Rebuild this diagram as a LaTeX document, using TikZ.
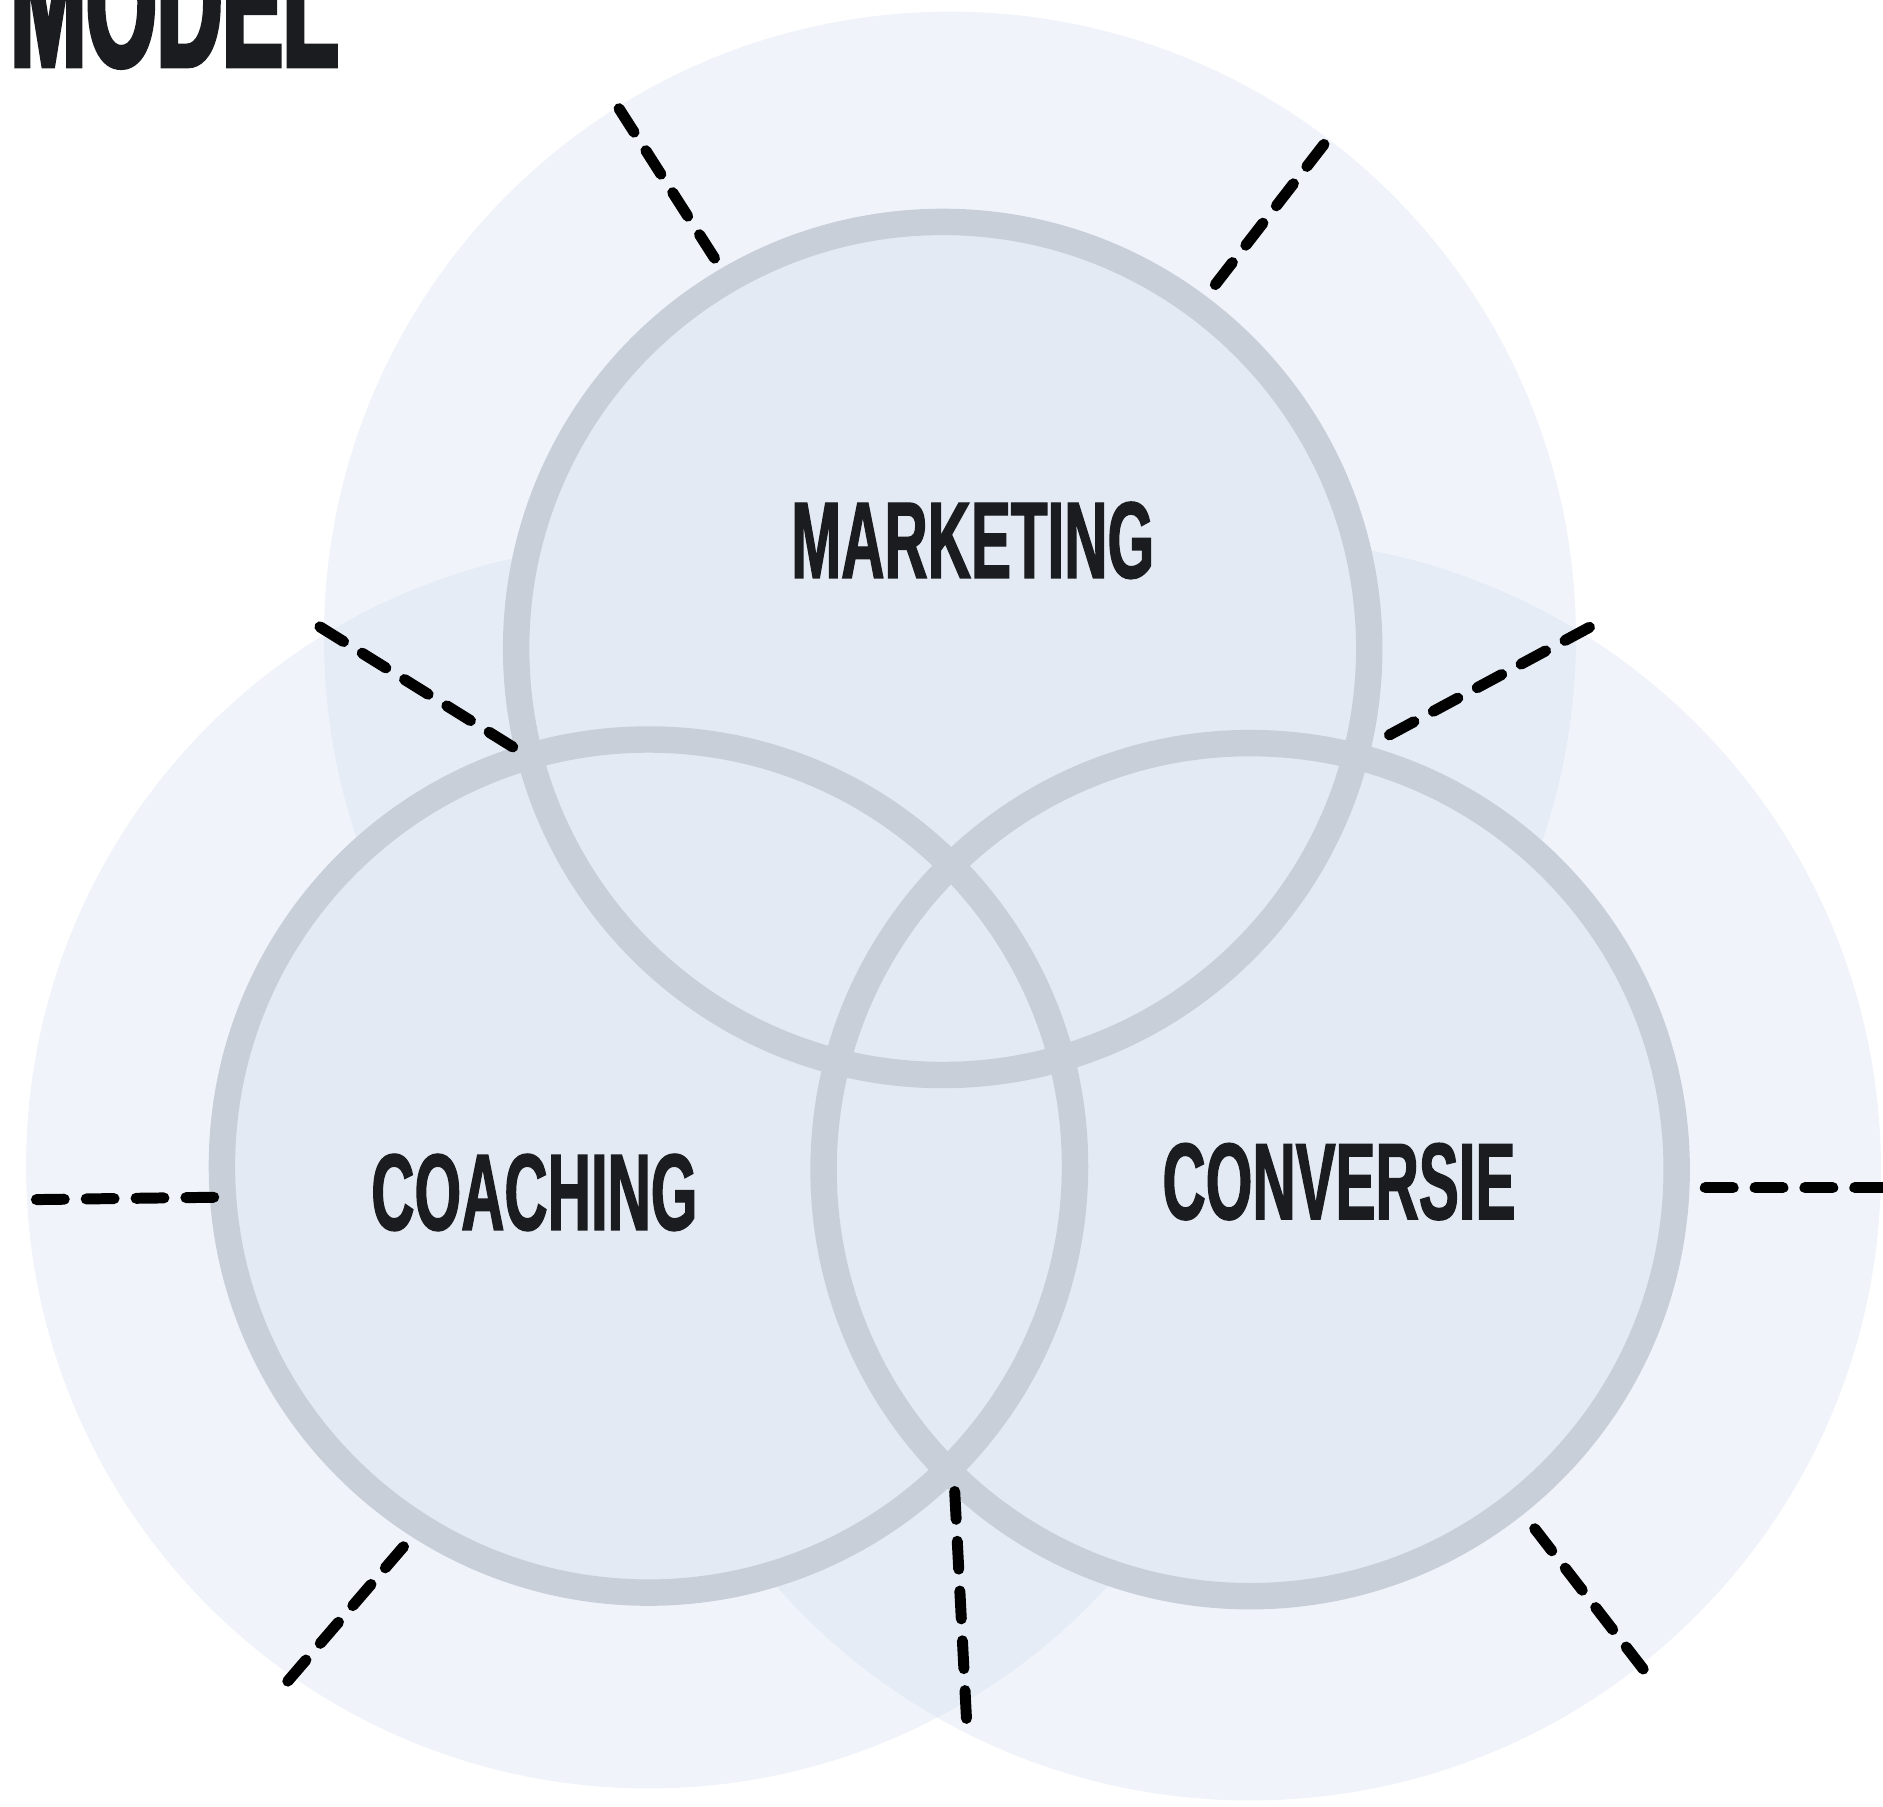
\documentclass[tikz,border=0pt]{standalone}
\definecolor{vm_zone}{RGB}{200, 215, 235}
\definecolor{vm_fill}{RGB}{227, 234, 243}
\definecolor{vm_ring}{RGB}{200, 207, 216}
\definecolor{vm_ink}{RGB}{27, 28, 32}
\usepackage{fontspec}
\newfontfamily\condfont[FakeStretch=0.55, FakeBold=1.2]{Liberation Sans}
\newfontfamily\titlefont[FakeStretch=0.5, FakeBold=2.5]{Liberation Sans}
\usepackage{tikz}
\usetikzlibrary{positioning}

\begin{document}
\begin{tikzpicture}[x=0.01cm, y=-0.01cm,
        zone/.style={circle, fill=vm_zone, fill opacity=0.27, inner sep=0pt},
        disc/.style={circle, fill=vm_fill, minimum size=7.1cm, inner sep=0pt},
        ring/.style={circle, draw=vm_ring, line width=6.26pt,
                     minimum size=7.1cm, inner sep=0pt},
        lbl/.style={font=\condfont\bfseries\fontsize{25.8}{26}\selectfont,
                    text=vm_ink, inner sep=0pt},
        dashline/.style={line width=2.6pt, line cap=round,
                         dash pattern=on 6.6pt off 5.2pt},
      ]
        \useasboundingbox (0,0) rectangle (1568,1504);

        % outer zones
        \foreach \n/\x/\y/\d in {mkt/791/531/10.42, coa/540/971/10.36, con/1041/974/10.5}
          \node[zone, minimum size=\d cm] (\n z) at (\x,\y) {};

        % inner circles
        \foreach \n/\x/\y in {mkt/785/540, coa/540/971, con/1041/974}
          \node[disc] (\n) at (\x,\y) {};
        \foreach \n in {mkt, coa, con}
          \node[ring] at (\n) {};

        % dash ends
        \coordinate (d1a) at (595,215);   \coordinate (d1b) at (512,85);
        \coordinate (d2a) at (1012,237);  \coordinate (d2b) at (1105,117);
        \coordinate (d3a) at (427,622);   \coordinate (d3b) at (260,518);
        \coordinate (d4a) at (1157,612);  \coordinate (d4b) at (1328,520);
        \coordinate (d5a) at (178,997);   \coordinate (d5b) at (25,999);
        \coordinate (d6a) at (1420,989);  \coordinate (d6b) at (1620,989);
        \coordinate (d7a) at (336,1288);  \coordinate (d7b) at (237,1403);
        \coordinate (d8a) at (795,1242);  \coordinate (d8b) at (805,1435);
        \coordinate (d9a) at (1278,1273); \coordinate (d9b) at (1370,1392);

        \foreach \i in {1,...,9}
          \draw[dashline] (d\i a) -- (d\i b);

        \node[lbl] (mktl) at (810,450) {MARKETING};
        \node[lbl] (coal) at (445,993) {COACHING};
        \node[lbl] (conl) at (1115,984) {CONVERSIE};

        \node[lbl, font=\titlefont\bfseries\fontsize{43}{44}\selectfont,
              anchor=base west] (title) at (8,55) {MODEL};
      \end{tikzpicture}
\end{document}
